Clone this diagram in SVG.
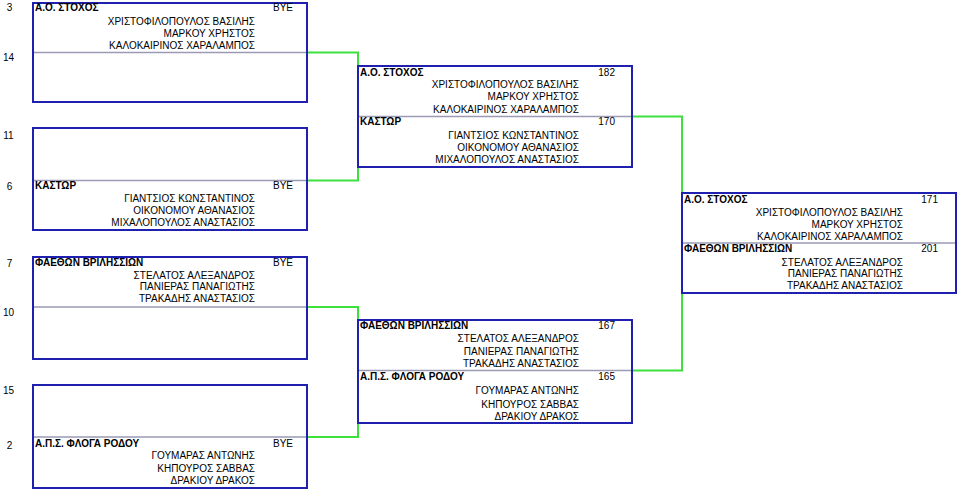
<svg xmlns="http://www.w3.org/2000/svg" width="960" height="490" viewBox="0 0 960 490">
<style>
text{font-family:"Liberation Sans",Arial,sans-serif;font-size:10px;fill:#000}
.t{font-weight:bold}
.p{text-anchor:end}
.s{text-anchor:end}
.seed{text-anchor:middle}
.box{fill:#fff;stroke:#2020b0;stroke-width:2}
.div{stroke:#9a9ab4;stroke-width:1.5}
.con{fill:none;stroke:#3ee03e;stroke-width:2}
</style>
<rect width="960" height="490" fill="#fff"/>
<g id="seeds">
<text class="seed" x="9.5" y="11">3</text>
<text class="seed" x="8.5" y="61">14</text>
<text class="seed" x="8.5" y="139">11</text>
<text class="seed" x="9.5" y="190">6</text>
<text class="seed" x="9.5" y="267">7</text>
<text class="seed" x="8.5" y="316">10</text>
<text class="seed" x="8.5" y="394">15</text>
<text class="seed" x="9.5" y="449">2</text>
</g>
<g id="connectors">
<polyline class="con" points="307,52.5 358,52.5 358,180.5 307,180.5"/>
<polyline class="con" points="307,307 358,307 358,437 307,437"/>
<polyline class="con" points="632,116.5 682,116.5 682,370.5 632,370.5"/>
</g>
<g id="r1m1">
<rect class="box" x="33" y="3" width="274" height="99"/>
<line class="div" x1="34" y1="52.5" x2="306" y2="52.5"/>
<text class="t" x="35" y="11">Α.Ο. ΣΤΟΧΟΣ</text>
<text class="s" x="293" y="11">BYE</text>
<text class="p" x="255" y="24.5">ΧΡΙΣΤΟΦΙΛΟΠΟΥΛΟΣ ΒΑΣΙΛΗΣ</text>
<text class="p" x="255" y="36.5">ΜΑΡΚΟΥ ΧΡΗΣΤΟΣ</text>
<text class="p" x="255" y="48.5">ΚΑΛΟΚΑΙΡΙΝΟΣ ΧΑΡΑΛΑΜΠΟΣ</text>
</g>
<g id="r1m2">
<rect class="box" x="33" y="128" width="274" height="102"/>
<line class="div" x1="34" y1="180.5" x2="306" y2="180.5"/>
<text class="t" x="35" y="189">ΚΑΣΤΩΡ</text>
<text class="s" x="293" y="189">BYE</text>
<text class="p" x="255" y="202">ΓΙΑΝΤΣΙΟΣ ΚΩΝΣΤΑΝΤΙΝΟΣ</text>
<text class="p" x="255" y="214">ΟΙΚΟΝΟΜΟΥ ΑΘΑΝΑΣΙΟΣ</text>
<text class="p" x="255" y="226">ΜΙΧΑΛΟΠΟΥΛΟΣ ΑΝΑΣΤΑΣΙΟΣ</text>
</g>
<g id="r1m3">
<rect class="box" x="33" y="257" width="274" height="102"/>
<line class="div" x1="34" y1="307" x2="306" y2="307"/>
<text class="t" x="35" y="266">ΦΑΕΘΩΝ ΒΡΙΛΗΣΣΙΩΝ</text>
<text class="s" x="293" y="266">BYE</text>
<text class="p" x="255" y="278.5">ΣΤΕΛΑΤΟΣ ΑΛΕΞΑΝΔΡΟΣ</text>
<text class="p" x="255" y="290">ΠΑΝΙΕΡΑΣ ΠΑΝΑΓΙΩΤΗΣ</text>
<text class="p" x="255" y="302">ΤΡΑΚΑΔΗΣ ΑΝΑΣΤΑΣΙΟΣ</text>
</g>
<g id="r1m4">
<rect class="box" x="33" y="385" width="274" height="103"/>
<line class="div" x1="34" y1="437" x2="306" y2="437"/>
<text class="t" x="35" y="446.5">Α.Π.Σ. ΦΛΟΓΑ ΡΟΔΟΥ</text>
<text class="s" x="293" y="446.5">BYE</text>
<text class="p" x="255" y="459">ΓΟΥΜΑΡΑΣ ΑΝΤΩΝΗΣ</text>
<text class="p" x="255" y="472">ΚΗΠΟΥΡΟΣ ΣΑΒΒΑΣ</text>
<text class="p" x="255" y="484">ΔΡΑΚΙΟΥ ΔΡΑΚΟΣ</text>
</g>
<g id="r2m1">
<rect class="box" x="358" y="66" width="274" height="101"/>
<line class="div" x1="359" y1="116.5" x2="631" y2="116.5"/>
<text class="t" x="360" y="76">Α.Ο. ΣΤΟΧΟΣ</text>
<text class="s" x="615" y="76">182</text>
<text class="p" x="579" y="88">ΧΡΙΣΤΟΦΙΛΟΠΟΥΛΟΣ ΒΑΣΙΛΗΣ</text>
<text class="p" x="579" y="100">ΜΑΡΚΟΥ ΧΡΗΣΤΟΣ</text>
<text class="p" x="579" y="112.5">ΚΑΛΟΚΑΙΡΙΝΟΣ ΧΑΡΑΛΑΜΠΟΣ</text>
<text class="t" x="360" y="125">ΚΑΣΤΩΡ</text>
<text class="s" x="615" y="125">170</text>
<text class="p" x="579" y="139">ΓΙΑΝΤΣΙΟΣ ΚΩΝΣΤΑΝΤΙΝΟΣ</text>
<text class="p" x="579" y="151">ΟΙΚΟΝΟΜΟΥ ΑΘΑΝΑΣΙΟΣ</text>
<text class="p" x="579" y="163">ΜΙΧΑΛΟΠΟΥΛΟΣ ΑΝΑΣΤΑΣΙΟΣ</text>
</g>
<g id="r2m2">
<rect class="box" x="358" y="320" width="274" height="103"/>
<line class="div" x1="359" y1="370.5" x2="631" y2="370.5"/>
<text class="t" x="360" y="329">ΦΑΕΘΩΝ ΒΡΙΛΗΣΣΙΩΝ</text>
<text class="s" x="615" y="329">167</text>
<text class="p" x="579" y="342">ΣΤΕΛΑΤΟΣ ΑΛΕΞΑΝΔΡΟΣ</text>
<text class="p" x="579" y="354.5">ΠΑΝΙΕΡΑΣ ΠΑΝΑΓΙΩΤΗΣ</text>
<text class="p" x="579" y="366.5">ΤΡΑΚΑΔΗΣ ΑΝΑΣΤΑΣΙΟΣ</text>
<text class="t" x="360" y="380">Α.Π.Σ. ΦΛΟΓΑ ΡΟΔΟΥ</text>
<text class="s" x="615" y="380">165</text>
<text class="p" x="579" y="393.5">ΓΟΥΜΑΡΑΣ ΑΝΤΩΝΗΣ</text>
<text class="p" x="579" y="408">ΚΗΠΟΥΡΟΣ ΣΑΒΒΑΣ</text>
<text class="p" x="579" y="420">ΔΡΑΚΙΟΥ ΔΡΑΚΟΣ</text>
</g>
<g id="r3m1">
<rect class="box" x="682" y="193" width="274" height="100"/>
<line class="div" x1="683" y1="243" x2="955" y2="243"/>
<text class="t" x="684" y="203">Α.Ο. ΣΤΟΧΟΣ</text>
<text class="s" x="938" y="203">171</text>
<text class="p" x="903" y="216">ΧΡΙΣΤΟΦΙΛΟΠΟΥΛΟΣ ΒΑΣΙΛΗΣ</text>
<text class="p" x="903" y="227.5">ΜΑΡΚΟΥ ΧΡΗΣΤΟΣ</text>
<text class="p" x="903" y="240">ΚΑΛΟΚΑΙΡΙΝΟΣ ΧΑΡΑΛΑΜΠΟΣ</text>
<text class="t" x="684" y="252">ΦΑΕΘΩΝ ΒΡΙΛΗΣΣΙΩΝ</text>
<text class="s" x="938" y="252">201</text>
<text class="p" x="903" y="265.5">ΣΤΕΛΑΤΟΣ ΑΛΕΞΑΝΔΡΟΣ</text>
<text class="p" x="903" y="277">ΠΑΝΙΕΡΑΣ ΠΑΝΑΓΙΩΤΗΣ</text>
<text class="p" x="903" y="289">ΤΡΑΚΑΔΗΣ ΑΝΑΣΤΑΣΙΟΣ</text>
</g>
</svg>
